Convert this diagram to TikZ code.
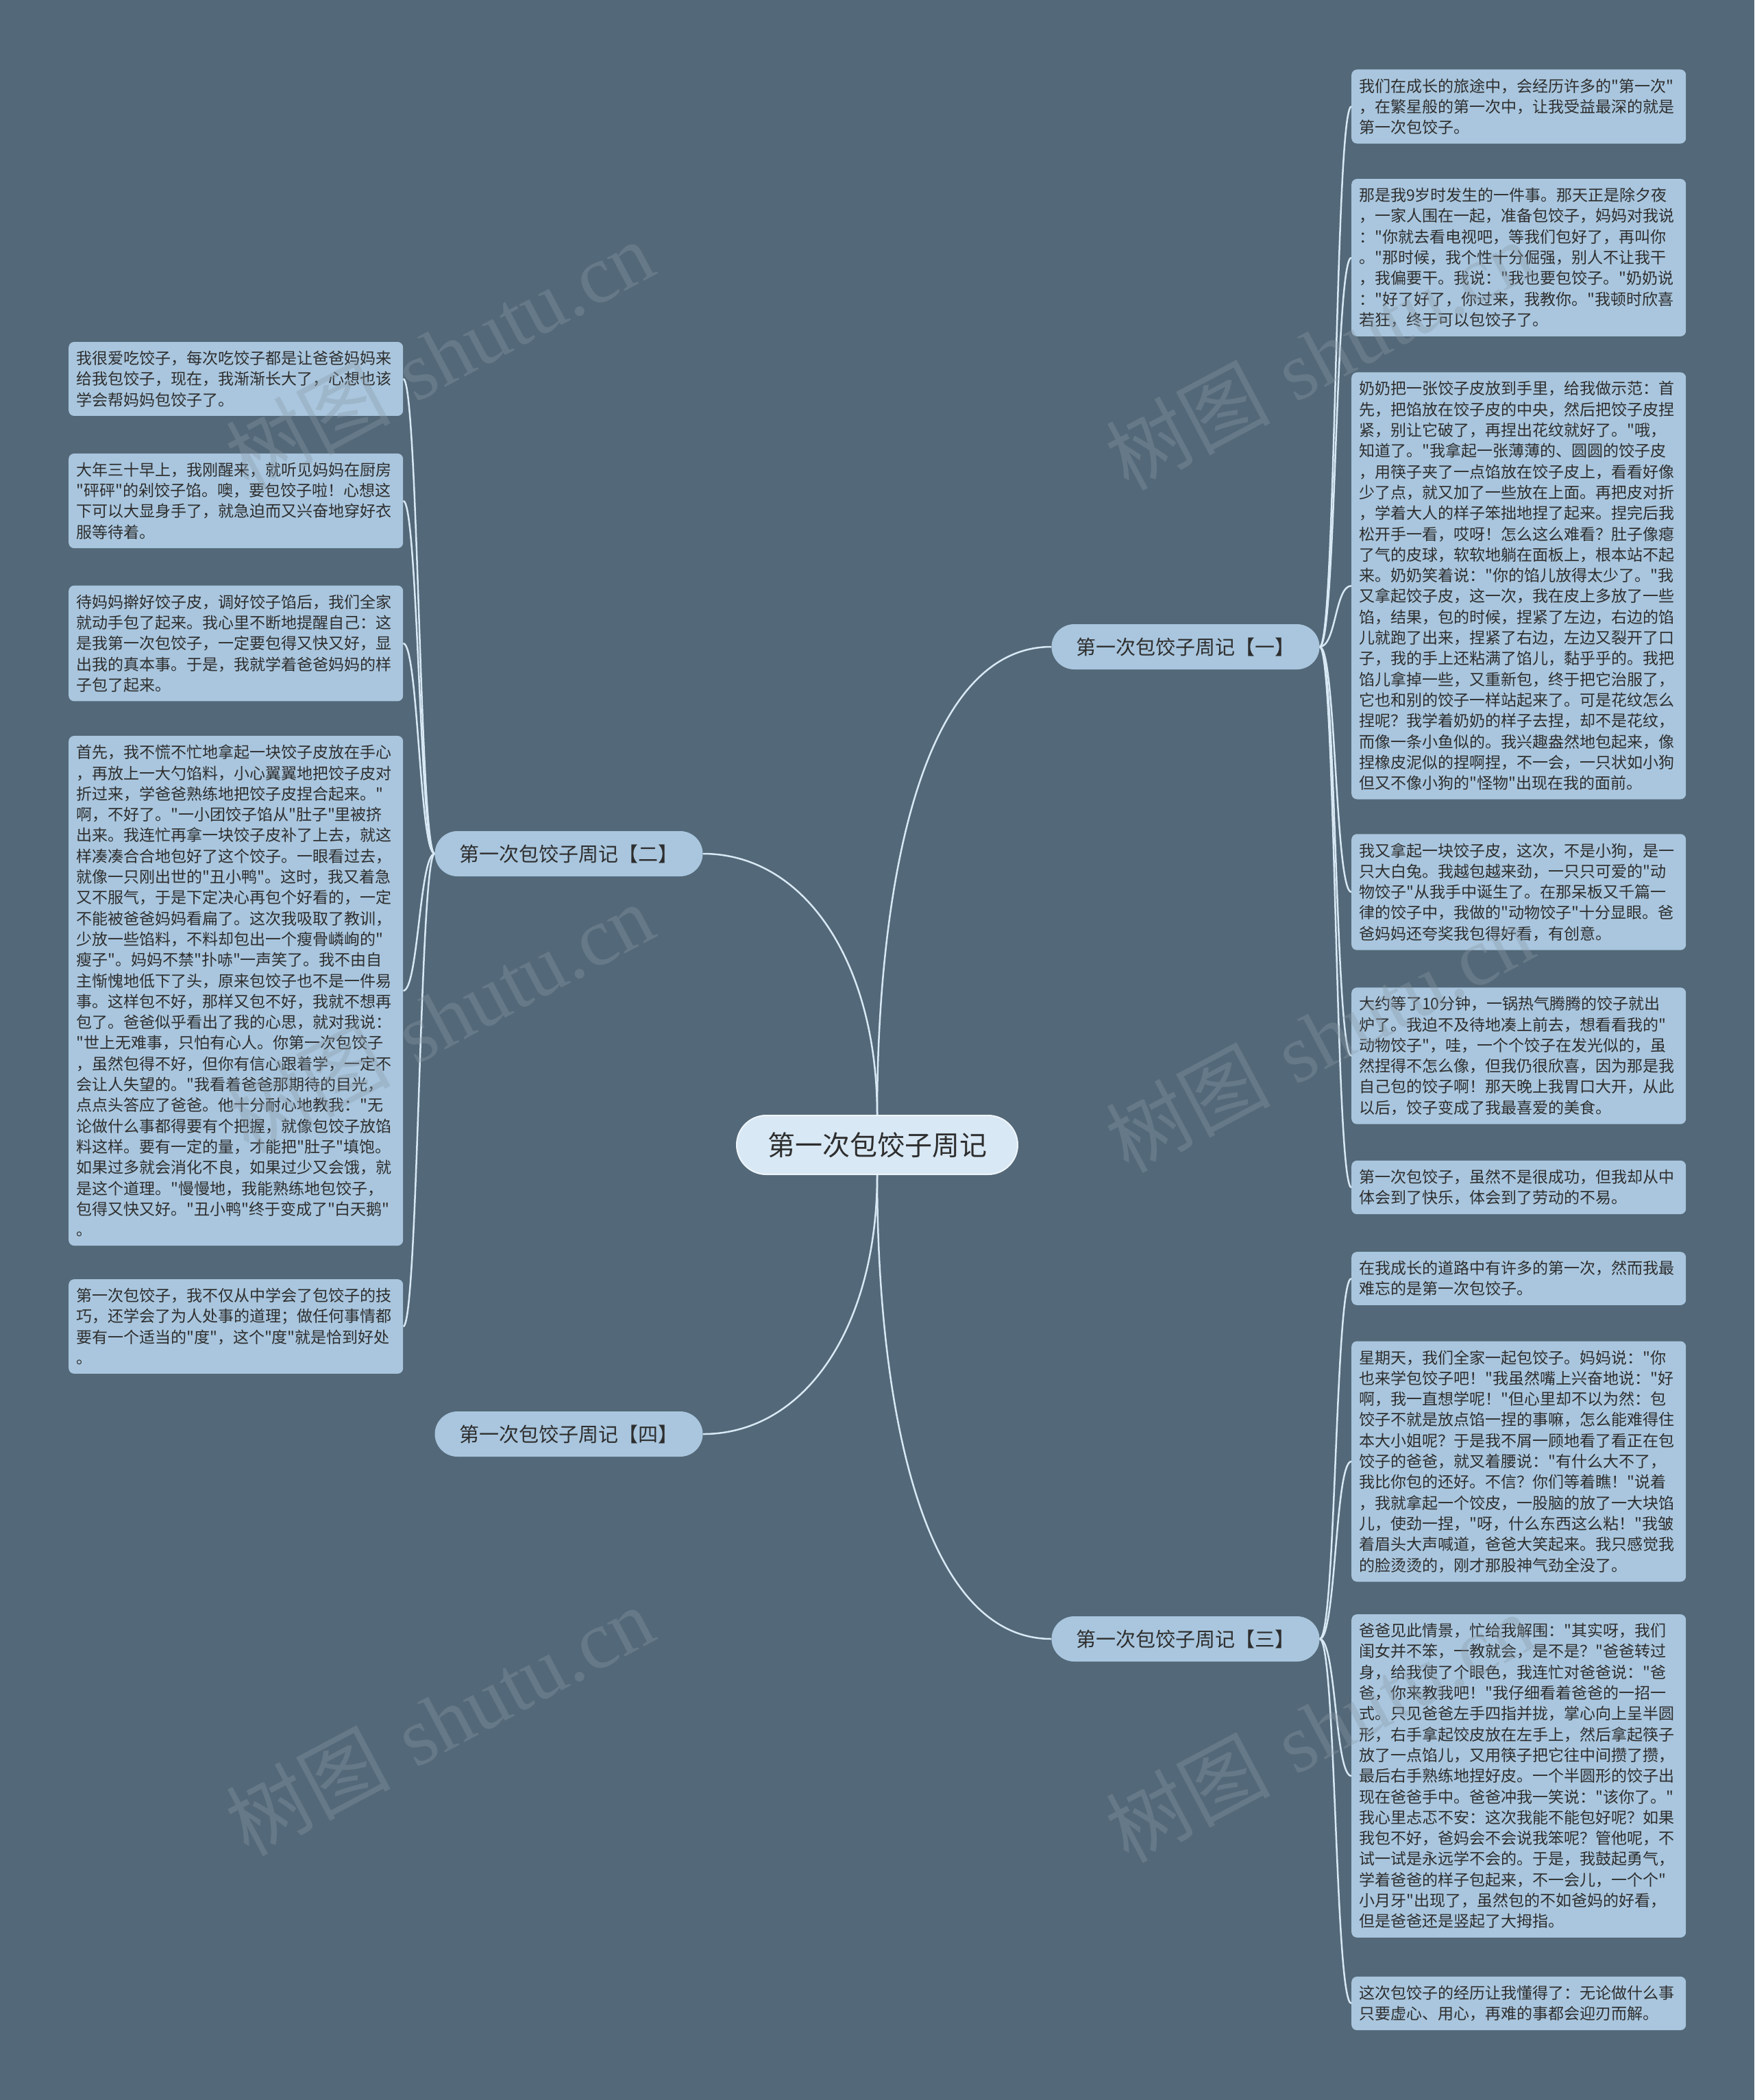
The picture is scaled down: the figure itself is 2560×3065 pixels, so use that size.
\documentclass[tikz,border=0pt]{standalone}
\usepackage{fontspec}
\newfontfamily\cjk{Noto Sans CJK SC}
\newfontfamily\wmlat{Liberation Serif}
\definecolor{bgc}{HTML}{536878}
\definecolor{boxc}{HTML}{A9C6DE}
\definecolor{cenc}{HTML}{D8E8F5}
\definecolor{cenb}{HTML}{EEF5FB}
\definecolor{linec}{HTML}{D8E9F5}
\definecolor{txtc}{HTML}{2E2E2E}
\definecolor{wmc}{HTML}{8A9AA6}
\pgfdeclarelayer{bglayer}
\pgfdeclarelayer{edges}
\pgfsetlayers{bglayer,edges,main}
\tikzset{
  txtbox/.style={fill=boxc, rounded corners=8pt, text width=466pt, inner xsep=11pt, inner ysep=13pt,
    align=left, anchor=west, text=txtc, font=\cjk\fontsize{23}{30.3}\selectfont},
  branch/.style={fill=boxc, rounded corners=33pt, minimum height=66pt, inner xsep=36pt, inner ysep=0pt,
    text=txtc, font=\cjk\fontsize{29}{34}\selectfont},
  central/.style={fill=cenc, draw=cenb, line width=2pt, rounded corners=43pt, minimum height=86pt,
    inner xsep=45pt, inner ysep=0pt, text=txtc, font=\cjk\fontsize{40}{46}\selectfont},
  conn/.style={draw=linec, line width=2.5pt},
  wm/.style={text=wmc, opacity=0.35, rotate=28, font=\fontsize{120}{120}\selectfont}
}
\begin{document}
\begin{tikzpicture}[x=1pt,y=-1pt]
\begin{pgfonlayer}{bglayer}
\fill[bgc] (0,0) rectangle (2560,3065);
\end{pgfonlayer}
\useasboundingbox (0,0) rectangle (2560,3065);

% central and branches
\node[central] (c) at (1280,1671) {第一次包饺子周记};
\node[branch] (b1) at (1730,944) {第一次包饺子周记【一】};
\node[branch] (b2) at (830,1246) {第一次包饺子周记【二】};
\node[branch] (b4) at (830,2093) {第一次包饺子周记【四】};
\node[branch] (b3) at (1730,2392) {第一次包饺子周记【三】};

% right boxes of branch one
\node[txtbox] (r1) at (1972,155.5) {我们在成长的旅途中，会经历许多的"第一次"\\，在繁星般的第一次中，让我受益最深的就是\\第一次包饺子。};
\node[txtbox] (r2) at (1972,376) {那是我9岁时发生的一件事。那天正是除夕夜\\，一家人围在一起，准备包饺子，妈妈对我说\\："你就去看电视吧，等我们包好了，再叫你\\。"那时候，我个性十分倔强，别人不让我干\\，我偏要干。我说："我也要包饺子。"奶奶说\\："好了好了，你过来，我教你。"我顿时欣喜\\若狂，终于可以包饺子了。};
\node[txtbox] (r3) at (1972,855) {奶奶把一张饺子皮放到手里，给我做示范：首\\先，把馅放在饺子皮的中央，然后把饺子皮捏\\紧，别让它破了，再捏出花纹就好了。"哦，\\知道了。"我拿起一张薄薄的、圆圆的饺子皮\\，用筷子夹了一点馅放在饺子皮上，看看好像\\少了点，就又加了一些放在上面。再把皮对折\\，学着大人的样子笨拙地捏了起来。捏完后我\\松开手一看，哎呀！怎么这么难看？肚子像瘪\\了气的皮球，软软地躺在面板上，根本站不起\\来。奶奶笑着说："你的馅儿放得太少了。"我\\又拿起饺子皮，这一次，我在皮上多放了一些\\馅，结果，包的时候，捏紧了左边，右边的馅\\儿就跑了出来，捏紧了右边，左边又裂开了口\\子，我的手上还粘满了馅儿，黏乎乎的。我把\\馅儿拿掉一些，又重新包，终于把它治服了，\\它也和别的饺子一样站起来了。可是花纹怎么\\捏呢？我学着奶奶的样子去捏，却不是花纹，\\而像一条小鱼似的。我兴趣盎然地包起来，像\\捏橡皮泥似的捏啊捏，不一会，一只状如小狗\\但又不像小狗的"怪物"出现在我的面前。};
\node[txtbox] (r4) at (1972,1302) {我又拿起一块饺子皮，这次，不是小狗，是一\\只大白兔。我越包越来劲，一只只可爱的"动\\物饺子"从我手中诞生了。在那呆板又千篇一\\律的饺子中，我做的"动物饺子"十分显眼。爸\\爸妈妈还夸奖我包得好看，有创意。};
\node[txtbox] (r5) at (1972,1541) {大约等了10分钟，一锅热气腾腾的饺子就出\\炉了。我迫不及待地凑上前去，想看看我的"\\动物饺子"，哇，一个个饺子在发光似的，虽\\然捏得不怎么像，但我仍很欣喜，因为那是我\\自己包的饺子啊！那天晚上我胃口大开，从此\\以后，饺子变成了我最喜爱的美食。};
\node[txtbox] (r6) at (1972,1733) {第一次包饺子，虽然不是很成功，但我却从中\\体会到了快乐，体会到了劳动的不易。};

% right boxes of branch three
\node[txtbox] (s1) at (1972,1866) {在我成长的道路中有许多的第一次，然而我最\\难忘的是第一次包饺子。};
\node[txtbox] (s2) at (1972,2133) {星期天，我们全家一起包饺子。妈妈说："你\\也来学包饺子吧！"我虽然嘴上兴奋地说："好\\啊，我一直想学呢！"但心里却不以为然：包\\饺子不就是放点馅一捏的事嘛，怎么能难得住\\本大小姐呢？于是我不屑一顾地看了看正在包\\饺子的爸爸，就叉着腰说："有什么大不了，\\我比你包的还好。不信？你们等着瞧！"说着\\，我就拿起一个饺皮，一股脑的放了一大块馅\\儿，使劲一捏，"呀，什么东西这么粘！"我皱\\着眉头大声喊道，爸爸大笑起来。我只感觉我\\的脸烫烫的，刚才那股神气劲全没了。};
\node[txtbox] (s3) at (1972,2592) {爸爸见此情景，忙给我解围："其实呀，我们\\闺女并不笨，一教就会，是不是？"爸爸转过\\身，给我使了个眼色，我连忙对爸爸说："爸\\爸，你来教我吧！"我仔细看着爸爸的一招一\\式。只见爸爸左手四指并拢，掌心向上呈半圆\\形，右手拿起饺皮放在左手上，然后拿起筷子\\放了一点馅儿，又用筷子把它往中间攒了攒，\\最后右手熟练地捏好皮。一个半圆形的饺子出\\现在爸爸手中。爸爸冲我一笑说："该你了。"\\我心里忐忑不安：这次我能不能包好呢？如果\\我包不好，爸妈会不会说我笨呢？管他呢，不\\试一试是永远学不会的。于是，我鼓起勇气，\\学着爸爸的样子包起来，不一会儿，一个个"\\小月牙"出现了，虽然包的不如爸妈的好看，\\但是爸爸还是竖起了大拇指。};
\node[txtbox] (s4) at (1972,2924) {这次包饺子的经历让我懂得了：无论做什么事\\只要虚心、用心，再难的事都会迎刃而解。};

% left boxes of branch two
\node[txtbox] (l1) at (100,553) {我很爱吃饺子，每次吃饺子都是让爸爸妈妈来\\给我包饺子，现在，我渐渐长大了，心想也该\\学会帮妈妈包饺子了。};
\node[txtbox] (l2) at (100,731) {大年三十早上，我刚醒来，就听见妈妈在厨房\\"砰砰"的剁饺子馅。噢，要包饺子啦！心想这\\下可以大显身手了，就急迫而又兴奋地穿好衣\\服等待着。};
\node[txtbox] (l3) at (100,939) {待妈妈擀好饺子皮，调好饺子馅后，我们全家\\就动手包了起来。我心里不断地提醒自己：这\\是我第一次包饺子，一定要包得又快又好，显\\出我的真本事。于是，我就学着爸爸妈妈的样\\子包了起来。};
\node[txtbox] (l4) at (100,1446) {首先，我不慌不忙地拿起一块饺子皮放在手心\\，再放上一大勺馅料，小心翼翼地把饺子皮对\\折过来，学爸爸熟练地把饺子皮捏合起来。"\\啊，不好了。"一小团饺子馅从"肚子"里被挤\\出来。我连忙再拿一块饺子皮补了上去，就这\\样凑凑合合地包好了这个饺子。一眼看过去，\\就像一只刚出世的"丑小鸭"。这时，我又着急\\又不服气，于是下定决心再包个好看的，一定\\不能被爸爸妈妈看扁了。这次我吸取了教训，\\少放一些馅料，不料却包出一个瘦骨嶙峋的"\\瘦子"。妈妈不禁"扑哧"一声笑了。我不由自\\主惭愧地低下了头，原来包饺子也不是一件易\\事。这样包不好，那样又包不好，我就不想再\\包了。爸爸似乎看出了我的心思，就对我说：\\"世上无难事，只怕有心人。你第一次包饺子\\，虽然包得不好，但你有信心跟着学，一定不\\会让人失望的。"我看着爸爸那期待的目光，\\点点头答应了爸爸。他十分耐心地教我："无\\论做什么事都得要有个把握，就像包饺子放馅\\料这样。要有一定的量，才能把"肚子"填饱。\\如果过多就会消化不良，如果过少又会饿，就\\是这个道理。"慢慢地，我能熟练地包饺子，\\包得又快又好。"丑小鸭"终于变成了"白天鹅"\\。};
\node[txtbox] (l5) at (100,1936) {第一次包饺子，我不仅从中学会了包饺子的技\\巧，还学会了为人处事的道理；做任何事情都\\要有一个适当的"度"，这个"度"就是恰到好处\\。};

% connectors
\begin{pgfonlayer}{edges}
\draw[conn] (c.north) .. controls +(0,-300) and +(-200,0) .. (b1.west);
\draw[conn] (c.north) .. controls +(0,-220) and +(150,0) .. (b2.east);
\draw[conn] (c.south) .. controls +(0,220) and +(150,0) .. (b4.east);
\draw[conn] (c.south) .. controls +(0,300) and +(-200,0) .. (b3.west);
\foreach \t in {r1,r2,r3,r4,r5,r6}
  \draw[conn] (b1.east) .. controls +(24,0) and +(-24,0) .. (\t.west);
\foreach \t in {s1,s2,s3,s4}
  \draw[conn] (b3.east) .. controls +(24,0) and +(-24,0) .. (\t.west);
\foreach \t in {l1,l2,l3,l4,l5}
  \draw[conn] (b2.west) .. controls +(-22,0) and +(22,0) .. (\t.east);
\end{pgfonlayer}

% watermarks
\node[wm] (w1) at (641,518) {{\cjk 树图} {\wmlat shutu.cn}};
\node[wm] (w2) at (641,1485) {{\cjk 树图} {\wmlat shutu.cn}};
\node[wm] (w3) at (641,2511) {{\cjk 树图} {\wmlat shutu.cn}};
\node[wm] (w4) at (1925,518) {{\cjk 树图} {\wmlat shutu.cn}};
\node[wm] (w5) at (1925,1514) {{\cjk 树图} {\wmlat shutu.cn}};
\node[wm] (w6) at (1925,2521) {{\cjk 树图} {\wmlat shutu.cn}};
\end{tikzpicture}
\end{document}
